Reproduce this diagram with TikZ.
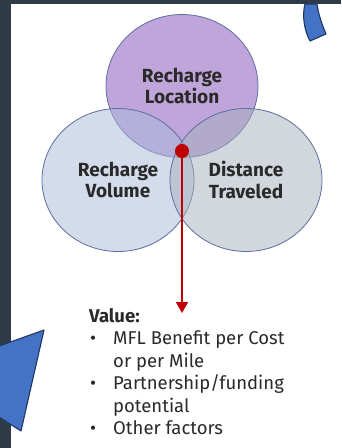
\documentclass[tikz,border=0pt]{standalone}
\usepackage{fontspec}
\setmainfont{Fira Sans}
\usepackage{tikz}
\usetikzlibrary{arrows.meta, positioning, shapes.geometric}
\definecolor{slate}{HTML}{2F3C48}
\definecolor{edgeblue}{HTML}{5B6FA0}
\definecolor{locpurple}{HTML}{814DB5}
\definecolor{volblue}{HTML}{ABBBD9}
\definecolor{distgrey}{HTML}{A7AFBD}
\definecolor{inkgrey}{HTML}{2A2A2A}
\definecolor{valred}{HTML}{C00000}
\definecolor{arrowblue}{HTML}{4472C4}
\definecolor{arrownavy}{HTML}{1F3864}

\begin{document}
\begin{tikzpicture}
[x=1pt, y=-1pt,
   bubble/.style={shape=ellipse, draw=edgeblue, line width=0.8pt, fill opacity=0.5,
      text opacity=1, minimum width=152pt, minimum height=143pt, align=center,
      text=inkgrey, font=\fontsize{19}{21.5}\selectfont\bfseries},
   ->/.style={line width=1.6pt, draw=valred, arrows={-Triangle[width=12pt,length=11pt]}},
   bigarrow/.style={fill=arrowblue, draw=arrownavy, line width=1.1pt, line join=round},
   valueG/.style={anchor=north west, align=left, text=inkgrey, inner sep=0pt,
      font=\fontsize{18.5}{22.5}\selectfont}]
\clip (0,0) rectangle (341,448);
\fill[slate] (0,0) rectangle (341,448);
\fill[white] (10.5,4) rectangle (341,448);
% the three circles
\node[bubble, fill=locpurple] (loc) at (182,86) {Recharge\\Location};
\node[bubble, fill=volblue] (vol) at (118,180) {Recharge\\Volume};
\node[bubble, fill=distgrey] (dist) at (246,180) {Distance\\Traveled};
% where they meet
\node[circle, fill=valred, inner sep=0pt, minimum size=14pt] (meet) at (182,151) {};
\node[valueG] (value) at (89,308) {\textbf{Value:}\\
\makebox[24pt][l]{\hspace{1pt}\textbullet}MFL Benefit per Cost\\
\hspace*{24pt}or per Mile\\
\makebox[24pt][l]{\hspace{1pt}\textbullet}Partnership/funding\\
\hspace*{24pt}potential\\
\makebox[24pt][l]{\hspace{1pt}\textbullet}Other factors};
\coordinate (tip) at (182,313);
\draw [->] (meet.center) -- (tip);
% blue arrows at the edges
\draw[bigarrow] (44,330) -- (-12,350) -- (-12,410) -- (21,431) -- cycle;
\draw[bigarrow] (305,4) .. controls (302,15) and (304,30) .. (310,41)
   -- (326,34) .. controls (321,22) and (318,12) .. (317,4) -- cycle;
\end{tikzpicture}
\end{document}
